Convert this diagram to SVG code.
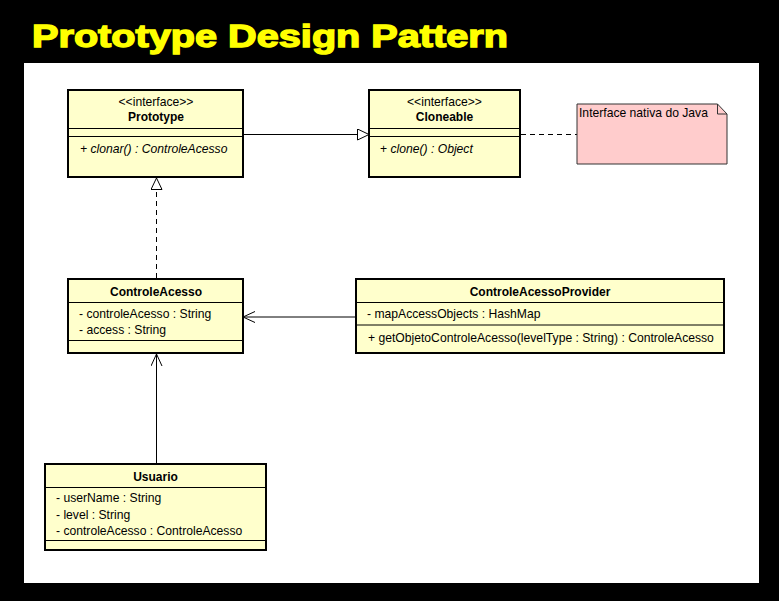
<svg xmlns="http://www.w3.org/2000/svg" width="779" height="601" viewBox="0 0 779 601">
<style>
  .box { fill: #FFFFCC; stroke: #000; stroke-width: 2; }
  .sep { stroke: #000; stroke-width: 1; }
  .t { font-family: "Liberation Sans", Arial, sans-serif; font-size: 12.15px; fill: #000; }
  .b { font-weight: bold; font-size: 12px; }
  .i { font-style: italic; }
  .c { text-anchor: middle; }
  .ln { stroke: #000; stroke-width: 1; fill: none; }
  .dash { stroke-dasharray: 5 4; }
</style>
<defs>
  <marker id="tri" markerWidth="14" markerHeight="14" refX="12" refY="6" orient="auto" markerUnits="userSpaceOnUse">
    <path d="M0.5,0.5 L12,6 L0.5,11.5 Z" fill="#fff" stroke="#000" stroke-width="1"/>
  </marker>
  <marker id="open" markerWidth="14" markerHeight="14" refX="12" refY="6" orient="auto" markerUnits="userSpaceOnUse">
    <path d="M0,0.5 L12,6 L0,11.5" fill="none" stroke="#000" stroke-width="1"/>
  </marker>
</defs>
<rect x="0" y="0" width="779" height="601" fill="#000"/>
<rect x="24" y="63" width="735" height="520" fill="#fff"/>
<text x="32" y="47" font-family="'Liberation Sans', Arial, sans-serif" font-weight="bold" font-size="32" fill="#FFFF00" stroke="#FFFF00" stroke-width="1.4" textLength="476" lengthAdjust="spacingAndGlyphs">Prototype Design Pattern</text>

<g id="connectors">
  <line class="ln" x1="243" y1="134.5" x2="369" y2="134.5" marker-end="url(#tri)"/>
  <line class="ln dash" x1="521" y1="134.5" x2="577" y2="134.5"/>
  <line class="ln dash" x1="156.5" y1="278" x2="156.5" y2="178" marker-end="url(#tri)"/>
  <line class="ln" x1="355" y1="317" x2="243" y2="317" marker-end="url(#open)"/>
  <line class="ln" x1="156.5" y1="463" x2="156.5" y2="354" marker-end="url(#open)"/>
</g>

<g id="prototype">
  <rect class="box" x="68" y="90" width="175" height="87"/>
  <line class="sep" x1="68" y1="128.5" x2="243" y2="128.5"/>
  <line class="sep" x1="68" y1="136.5" x2="243" y2="136.5"/>
  <text class="t c" x="156" y="106">&lt;&lt;interface&gt;&gt;</text>
  <text class="t b c" x="156" y="121">Prototype</text>
  <text class="t i" x="80" y="152.5">+ clonar() : ControleAcesso</text>
</g>

<g id="cloneable">
  <rect class="box" x="369" y="90" width="151" height="87"/>
  <line class="sep" x1="369" y1="128.5" x2="520" y2="128.5"/>
  <line class="sep" x1="369" y1="136.5" x2="520" y2="136.5"/>
  <text class="t c" x="444.5" y="106">&lt;&lt;interface&gt;&gt;</text>
  <text class="t b c" x="444.5" y="121">Cloneable</text>
  <text class="t" x="380" y="152.5">+ <tspan class="i">clone() : Object</tspan></text>
</g>

<g id="note">
  <path d="M577,104 L717.5,104 L727,114 L727,164 L577,164 Z" fill="#FFCCCC" stroke="#333" stroke-width="1"/>
  <path d="M717.5,104 L717.5,114 L727,114" fill="none" stroke="#333" stroke-width="1"/>
  <text class="t" x="579" y="117">Interface nativa do Java</text>
</g>

<g id="controleAcesso">
  <rect class="box" x="68" y="279" width="175" height="74"/>
  <line class="sep" x1="68" y1="302.5" x2="243" y2="302.5"/>
  <line class="sep" x1="68" y1="340.5" x2="243" y2="340.5"/>
  <text class="t b c" x="156" y="296">ControleAcesso</text>
  <text class="t" x="79" y="317.5">- controleAcesso : String</text>
  <text class="t" x="79" y="333.5">- access : String</text>
</g>

<g id="controleAcessoProvider">
  <rect class="box" x="356" y="279" width="368" height="74"/>
  <line class="sep" x1="356" y1="302.5" x2="724" y2="302.5"/>
  <line class="sep" x1="356" y1="325" x2="724" y2="325"/>
  <text class="t b c" x="540" y="296">ControleAcessoProvider</text>
  <text class="t" x="367" y="318">- mapAccessObjects : HashMap</text>
  <text class="t" x="368" y="341.5">+ getObjetoControleAcesso(levelType : String) : ControleAcesso</text>
</g>

<g id="usuario">
  <rect class="box" x="45" y="464" width="221" height="86"/>
  <line class="sep" x1="45" y1="487.5" x2="266" y2="487.5"/>
  <line class="sep" x1="45" y1="540.5" x2="266" y2="540.5"/>
  <text class="t b c" x="155.5" y="481">Usuario</text>
  <text class="t" x="56" y="502">- userName : String</text>
  <text class="t" x="56" y="518.5">- level : String</text>
  <text class="t" x="56" y="534.5">- controleAcesso : ControleAcesso</text>
</g>
</svg>
